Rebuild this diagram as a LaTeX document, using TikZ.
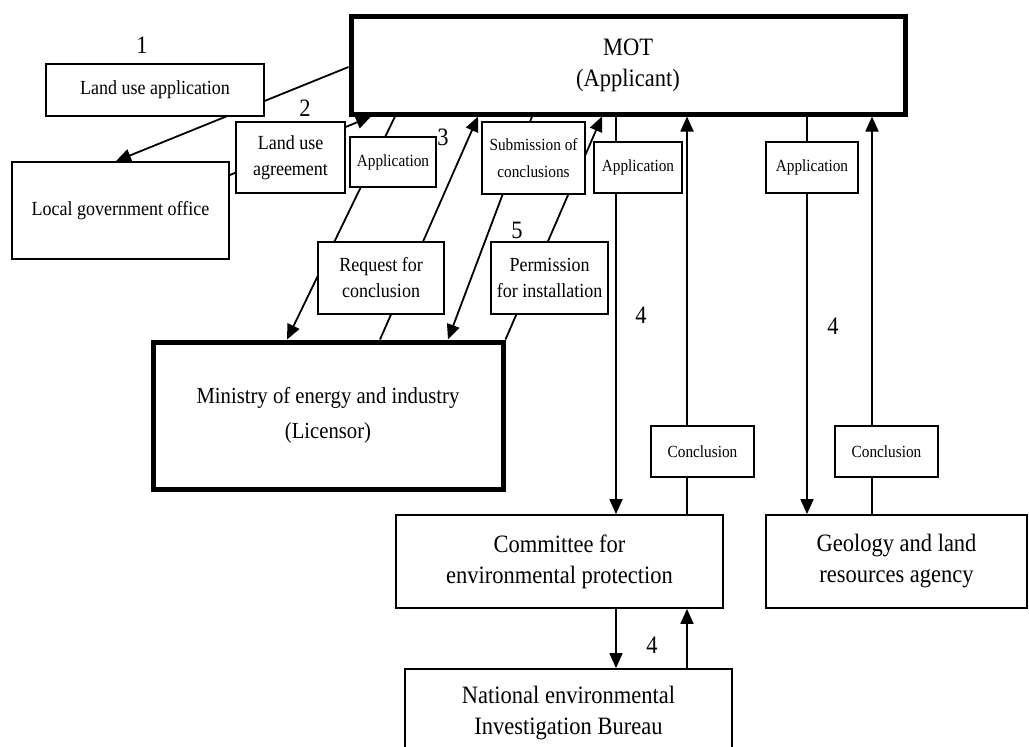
\documentclass[tikz,border=0pt]{standalone}
\usepackage{fontspec}
\setmainfont[FakeStretch=0.9]{Liberation Serif}
\usetikzlibrary{arrows.meta}

\begin{document}
\begin{tikzpicture}[x=1pt,y=-1pt,
  box/.style={draw,line width=1.8pt,inner sep=0pt,align=center,
    minimum width=#1},
  thickbox/.style={draw,line width=5pt,inner sep=0pt,align=center},
  tag/.style={box=#1,fill=white},
  arr/.style={line width=1.8pt,-{Triangle[length=15pt,width=13pt]}},
  ln/.style={line width=1.8pt},
  big/.style={font=\fontsize{25}{31}\selectfont},
  mid/.style={font=\fontsize{20}{26}\selectfont},
  small/.style={font=\fontsize{17}{27}\selectfont},
  num/.style={font=\fontsize{25}{25}\selectfont,inner sep=0pt}]

\useasboundingbox (0,0) rectangle (1029,747);
\clip (0,0) rectangle (1029,747);

% main bodies
\node[thickbox,big,minimum width=554pt,minimum height=98pt] (mot) at (628,65)
  {MOT\\(Applicant)};
\node[box=217pt,mid,minimum height=97pt] (lgo) at (120.5,210.5)
  {Local government office};
\node[thickbox,font=\fontsize{23}{35}\selectfont,minimum width=350pt,
  minimum height=147pt] (min) at (328,415.5)
  {Ministry of energy and industry\\(Licensor)};
\node[box=327pt,big,minimum height=93pt] (cep) at (559.5,561.5)
  {Committee for\\environmental protection};
\node[box=261pt,big,minimum height=93pt] (geo) at (896.5,561.5)
  {Geology and land\\resources agency};
\node[box=327pt,big,minimum height=88pt] (neib) at (568.5,713)
  {National environmental\\Investigation Bureau};

% flows
\draw[arr] (mot.west |- 0,67) -- (lgo.north -| 116,0);
\draw[arr] (lgo.east |- 0,175) -- (mot.south -| 371,0);
\draw[arr] (mot.south -| 395,0) -- (min.north -| 287,0);
\draw[arr] (min.north -| 380,0) -- (mot.south -| 478,0);
\draw[arr] (mot.south -| 532,0) -- (min.north -| 448,0);
\draw[arr] (min.north east) -- (mot.south -| 602,0);
\draw[arr] (mot.south -| 616,0) -- (cep.north -| 616,0);
\draw[arr] (cep.north -| 687,0) -- (mot.south -| 687,0);
\draw[arr] (mot.south -| 807,0) -- (geo.north -| 807,0);
\draw[arr] (geo.north -| 872,0) -- (mot.south -| 872,0);
\draw[arr] (cep.south -| 616,0) -- (neib.north -| 616,0);
\draw[arr] (neib.north -| 687,0) -- (cep.south -| 687,0);

% labels on the flows
\node[tag=218pt,mid,minimum height=52pt] (lua) at (155,90) {Land use application};
\node[tag=109pt,mid,minimum height=71pt] (lug) at (290.5,157.5) {Land use\\agreement};
\node[tag=86pt,small,minimum height=50pt] (app1) at (393,162) {Application};
\node[tag=126pt,mid,minimum height=72pt] (req) at (381,278) {Request for\\conclusion};
\node[tag=103pt,small,minimum height=72pt] (sub) at (533.5,158) {Submission of\\conclusions};
\node[tag=117pt,mid,minimum height=72pt] (perm) at (549.5,278) {Permission\\for installation};
\node[tag=88pt,small,minimum height=51pt] (app2) at (638,167.5) {Application};
\node[tag=92pt,small,minimum height=51pt] (app3) at (812,167.5) {Application};
\node[tag=103pt,small,minimum height=51pt] (con1) at (702.5,451.5) {Conclusion};
\node[tag=103pt,small,minimum height=51pt] (con2) at (886.5,451.5) {Conclusion};

% step numbers
\node[num] (n1) at (142,45) {1};
\node[num] (n2) at (305,108) {2};
\node[num] (n3) at (443,137) {3};
\node[num] (n5) at (517,230) {5};
\node[num] (n4a) at (641,315) {4};
\node[num] (n4b) at (833,326) {4};
\node[num] (n4c) at (652,645) {4};
\end{tikzpicture}
\end{document}
